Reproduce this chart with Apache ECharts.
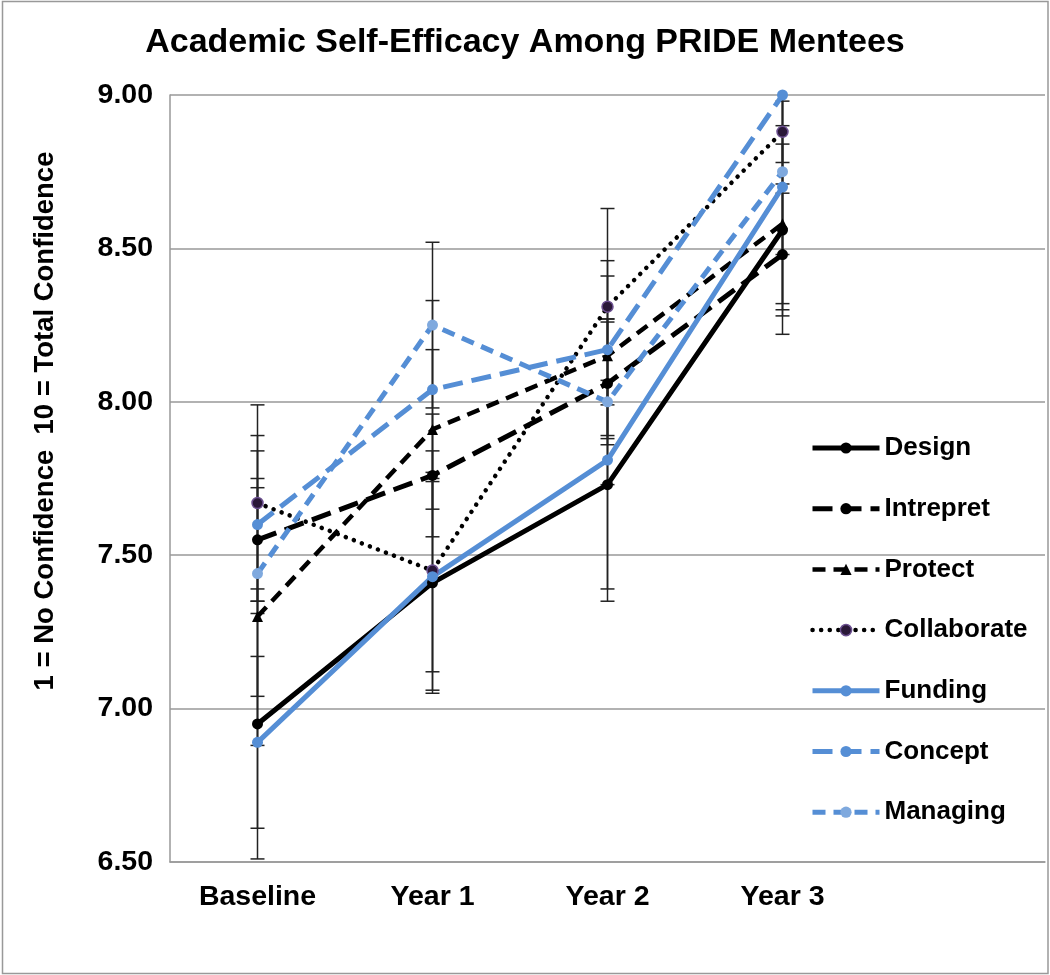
<!DOCTYPE html>
<html><head><meta charset="utf-8">
<script src="https://cdn.jsdelivr.net/npm/echarts/dist/echarts.min.js"></script>
<style>html,body{margin:0;padding:0;background:#fff}#c{width:1050px;height:975px}</style>
</head><body><div id="c"></div>
<script>
// ---- data ----
const categories = ['Baseline', 'Year 1', 'Year 2', 'Year 3', ''];
const seriesNames = ['Design', 'Intrepret', 'Protect', 'Collaborate', 'Funding', 'Concept', 'Managing'];
const design      = [6.95, 7.41, 7.73, 8.56];
const intrepret   = [7.55, 7.76, 8.06, 8.48];
const protect     = [7.30, 7.91, 8.15, 8.58];
const collaborate = [7.67, 7.45, 8.31, 8.88];
const funding     = [6.89, 7.43, 7.81, 8.70];
const concept     = [7.60, 8.04, 8.17, 9.00];
const managing    = [7.44, 8.25, 8.00, 8.75];
// error bar half-lengths
const designErr      = [0.44, 0.36, 0.34, 0.34];
const intrepretErr   = [0.20, 0.20, 0.20, 0.20];
const protectErr     = [0.42, 0.26, 0.26, 0.26];
const collaborateErr = [0.32, 0.39, 0.32, 0.10];
const fundingErr     = [0.28, 0.31, 0.46, 0.40];
const conceptErr     = [0.29, 0.29, 0.29, 0.29];
const managingErr    = [0.40, 0.27, 0.27, 0.27];
const yMin = 6.5, yMax = 9.0, yInterval = 0.5;
const titleText = 'Academic Self-Efficacy Among PRIDE Mentees';
const yName = '1 = No Confidence  10 = Total Confidence';

const values = [design, intrepret, protect, collaborate, funding, concept, managing];
const errs = [designErr, intrepretErr, protectErr, collaborateErr, fundingErr, conceptErr, managingErr];

const BLUE = '#558ed5';
const styles = [
  {color: '#000', width: 5, type: 'solid', symbol: 'circle', size: 11, mColor: '#000'},
  {color: '#000', width: 5, type: [20, 9], symbol: 'circle', size: 11, mColor: '#000'},
  {color: '#000', width: 4.5, type: [13, 8], symbol: 'triangle', size: 11, mColor: '#000'},
  {color: '#000', width: 4.5, type: [0.1, 8.5], cap: 'round', symbol: 'circle', size: 11, mColor: '#2a1838', mBorder: '#6b4f8f'},
  {color: BLUE, width: 5, type: 'solid', symbol: 'circle', size: 11, mColor: BLUE},
  {color: BLUE, width: 5, type: [20, 9], symbol: 'circle', size: 11, mColor: BLUE},
  {color: BLUE, width: 5, type: [13, 8], symbol: 'circle', size: 11, mColor: '#7fa9de'}
];

const errData = [];
values.forEach((arr, s) => arr.forEach((v, i) => errData.push([i, v - errs[s][i], v + errs[s][i]])));

const series = seriesNames.map((name, s) => ({
  name, type: 'line', data: values[s], z: 3,
  symbol: styles[s].symbol, symbolSize: styles[s].size,
  lineStyle: {color: styles[s].color, width: styles[s].width, type: styles[s].type, cap: styles[s].cap || 'butt'},
  itemStyle: {color: styles[s].mColor, borderColor: styles[s].mBorder || styles[s].mColor, borderWidth: styles[s].mBorder ? 1.5 : 0},
  emphasis: {disabled: true}, animation: false
}));

series.push({
  type: 'custom', name: 'err', z: 2, animation: false, silent: true,
  data: errData,
  renderItem: function (params, api) {
    const x = api.value(0), lo = api.value(1), hi = api.value(2);
    const loC = Math.max(lo, yMin), hiC = Math.min(hi, yMax);
    const p1 = api.coord([x, loC]), p2 = api.coord([x, hiC]);
    const w = 7;
    const style = {stroke: '#222', lineWidth: 1.5, fill: null};
    const children = [{type: 'line', shape: {x1: p1[0], y1: p1[1], x2: p2[0], y2: p2[1]}, style}];
    if (lo >= yMin) children.push({type: 'line', shape: {x1: p1[0] - w, y1: p1[1], x2: p1[0] + w, y2: p1[1]}, style});
    if (hi < yMax - 0.005) children.push({type: 'line', shape: {x1: p2[0] - w, y1: p2[1], x2: p2[0] + w, y2: p2[1]}, style});
    return {type: 'group', children};
  }
});

const legendData = seriesNames.map((name, s) => ({
  name,
  lineStyle: {color: styles[s].color, width: styles[s].width, type: styles[s].type, cap: styles[s].cap || 'butt'},
  itemStyle: {color: styles[s].mColor, borderColor: styles[s].mBorder || styles[s].mColor, borderWidth: styles[s].mBorder ? 1.5 : 0}
}));

const FONT = '"Liberation Sans", Arial, sans-serif';
const chart = echarts.init(document.getElementById('c'), null, {renderer: 'canvas'});
chart.setOption({
  backgroundColor: '#fff',
  animation: false,
  title: {
    text: titleText, left: 'center', top: 21,
    textStyle: {fontFamily: FONT, fontWeight: 'bold', fontSize: 34, color: '#000'}
  },
  grid: {left: 170, right: 5, top: 95, bottom: 113, containLabel: false},
  xAxis: {
    type: 'category', data: categories, boundaryGap: true,
    axisLine: {show: true, lineStyle: {color: '#999', width: 1.5}},
    axisTick: {show: false},
    axisLabel: {margin: 21, fontFamily: FONT, fontWeight: 'bold', fontSize: 28.5, color: '#000'},
    splitLine: {show: false}
  },
  yAxis: {
    type: 'value', min: yMin, max: yMax, interval: yInterval,
    axisLine: {show: true, lineStyle: {color: '#999', width: 1.5}},
    axisTick: {show: false},
    axisLabel: {margin: 17, fontFamily: FONT, fontWeight: 'bold', fontSize: 28.5, color: '#000',
      formatter: v => v.toFixed(2)},
    splitLine: {show: true, lineStyle: {color: '#999', width: 1.5}}
  },
  legend: {
    orient: 'vertical', left: 810, top: 433, padding: 0,
    data: legendData,
    itemWidth: 67, itemHeight: 14, itemGap: 30.7,
    textStyle: {fontFamily: FONT, fontWeight: 'bold', fontSize: 26, color: '#000', lineHeight: 30},
    selectedMode: false
  },
  graphic: [
    {type: 'rect', shape: {x: 2.5, y: 1.5, width: 1045.5, height: 972}, style: {fill: null, stroke: '#999', lineWidth: 1.5}, silent: true},
    {type: 'text', x: 45, y: 421, rotation: Math.PI / 2,
      style: {text: yName, fontFamily: FONT, fontWeight: 'bold', fontSize: 27.5, fill: '#000', align: 'center', verticalAlign: 'middle'}}
  ],
  series
});
</script>
</body></html>
